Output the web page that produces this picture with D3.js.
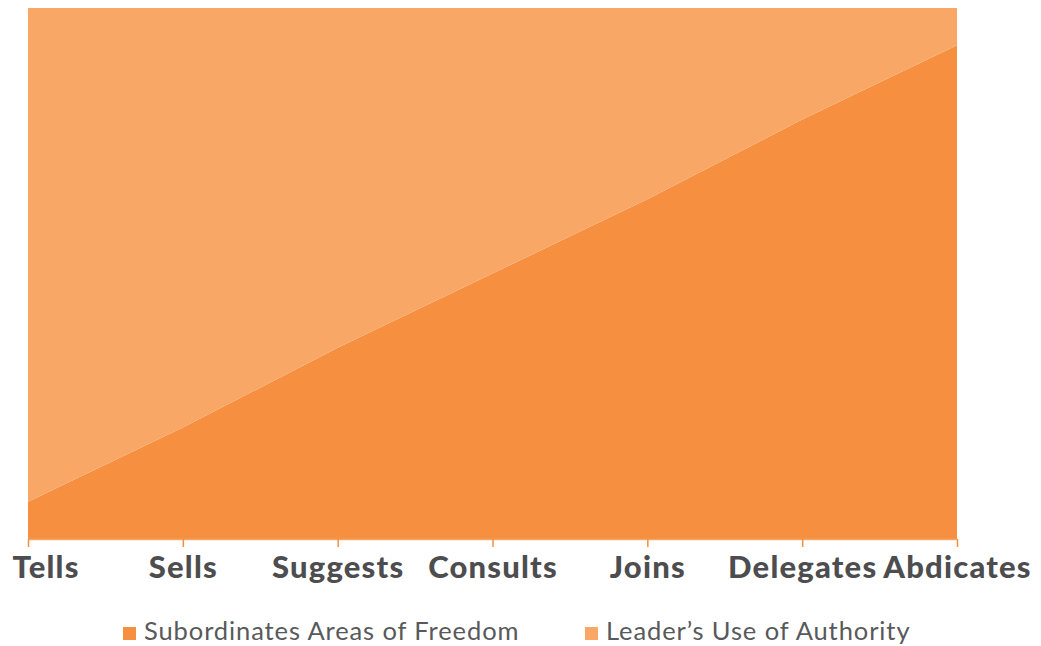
<!DOCTYPE html>
<html>
<head>
<meta charset="utf-8">
<script src="https://cdn.jsdelivr.net/npm/d3@7"></script>
<style>
  body { margin: 0; background: #fff; }
  text { font-family: Lato, "Noto Sans", sans-serif; }
</style>
</head>
<body>
<script>
// leadership continuum, share of decision space (percent)
var styles = ['Tells', 'Sells', 'Suggests', 'Consults', 'Joins', 'Delegates', 'Abdicates'];
var freedom = [7, 21, 36, 50, 64, 79, 93];
var authority = [93, 79, 64, 50, 36, 21, 7];
var seriesNames = ['Subordinates Areas of Freedom', 'Leader\u2019s Use of Authority'];
var seriesKeys = ['freedom', 'authority'];
var colors = ['#f68f3f', '#f8a766'];

var width = 1041, height = 646;
var margin = {top: 8, right: 84, bottom: 107, left: 27};

var rows = styles.map((s, i) => ({style: s, freedom: freedom[i], authority: authority[i]}));

var svg = d3.select('body').append('svg').attr('width', width).attr('height', height);

var x = d3.scalePoint().domain(styles).range([margin.left + 1, width - margin.right]);
var y = d3.scaleLinear().domain([0, 100]).range([height - margin.bottom, margin.top]);

var stacked = d3.stack().keys(seriesKeys)(rows);

var area = d3.area()
	.x(d => x(d.data.style))
	.y0(d => y(d[0]))
	.y1(d => y(d[1]));

svg.append('g').selectAll('path').data(stacked).join('path')
	.attr('d', area)
	.attr('fill', (d, i) => colors[i]);

// x axis
var axis = svg.append('g')
	.attr('transform', 'translate(0,' + (height - margin.bottom) + ')')
	.call(d3.axisBottom(x).tickSize(8).tickSizeOuter(0).tickPadding(6));
axis.select('.domain').attr('stroke', '#f7a669').attr('stroke-width', 1.5);
axis.selectAll('.tick line').attr('stroke', '#f68f3f').attr('stroke-width', 1.5);
axis.selectAll('.tick text')
	.attr('fill', '#4d4d4f')
	.attr('font-size', 31)
	.attr('font-weight', 900)
	.attr('letter-spacing', 1.2)
	.attr('font-family', 'Lato, sans-serif')
	.attr('dy', '0.8em')
	.each(function(d) {
		// keep end labels inside the view
		var t = d3.select(this);
		var w = this.getComputedTextLength();
		var cx = x(d);
		if (cx - w / 2 < 12) t.attr('x', 12 + w / 2 - cx);
		if (cx + w / 2 > width - 4) t.attr('x', width - 4 - w / 2 - cx);
	});

// legend
var legendX = [123, 585];
var legend = svg.append('g').selectAll('g').data(seriesNames).join('g')
	.attr('transform', (d, i) => 'translate(' + legendX[i] + ',627)');
legend.append('rect').attr('width', 13).attr('height', 13).attr('fill', (d, i) => colors[i]);
legend.append('text')
	.attr('x', 21).attr('y', 13)
	.attr('font-size', 25.5)
	.attr('letter-spacing', 0.9)
	.attr('fill', '#58595b')
	.text(d => d);
</script>
</body>
</html>
